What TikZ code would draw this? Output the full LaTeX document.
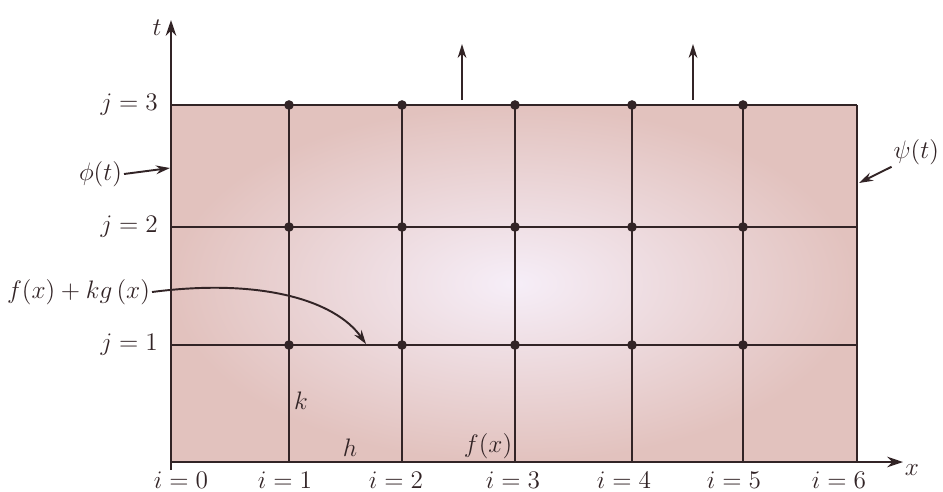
\documentclass[tikz,border=0pt]{standalone}
\usetikzlibrary{arrows.meta}
\definecolor{ink}{RGB}{50,36,38}
\definecolor{pinkout}{RGB}{226,194,190}
\definecolor{pinkin}{RGB}{246,238,248}
\begin{document}
\begin{tikzpicture}[x=0.02cm,y=-0.02cm,
  gridline/.style={draw=ink,line width=0.8pt},
  axisline/.style={draw=ink,line width=1.4pt,-{Stealth[length=9pt,width=6pt]}},
  ptr/.style={draw=ink,line width=1.1pt,-{Stealth[length=8pt,width=5pt]}},
  lbl/.style={text=ink,inner sep=1pt,font=\fontsize{13.5}{15}\selectfont},
  dot/.style={circle,fill=ink,inner sep=0pt,minimum size=5.5pt}]
\useasboundingbox (0,0) rectangle (943,491);
% background
\shade[inner color=pinkin,outer color=pinkout] (171,105) rectangle (857,462);
% grid coordinates
\foreach \i/\x in {0/171,1/289,2/402,3/515,4/632,5/743,6/857}{
  \coordinate (b\i) at (\x,462);
  \coordinate (t\i) at (\x,105);
}
\foreach \j/\y in {0/462,1/345,2/227,3/105}{
  \coordinate (l\j) at (171,\y);
  \coordinate (r\j) at (857,\y);
}
% grid lines
\foreach \i in {1,...,6}{ \draw[gridline] (b\i) -- (t\i); }
\foreach \j in {1,2,3}{ \draw[gridline] (l\j) -- (r\j); }
% axes
\coordinate (o) at (171,462);
\coordinate (xend) at (903,462);
\coordinate (tend) at (171,20);
\draw[axisline] (o) -- (xend);
\draw[axisline] (171,470) -- (tend);
\node[lbl] (xl) at (912,470) {$x$};
\node[lbl] (tl) at (157,28) {$t$};
% dots
\foreach \i/\x in {1/289,2/402,3/515,4/632,5/743}{
  \foreach \j/\y in {1/345,2/227,3/105}{
    \node[dot] (d\i\j) at (\x,\y) {};
  }
}
% i labels
\node[lbl] (i0) at (181,480) {$i=0$};
\node[lbl] (i1) at (285,480) {$i=1$};
\node[lbl] (i2) at (396,480) {$i=2$};
\node[lbl] (i3) at (513,480) {$i=3$};
\node[lbl] (i4) at (624,480) {$i=4$};
\node[lbl] (i5) at (734,480) {$i=5$};
\node[lbl] (i6) at (839,480) {$i=6$};
% j labels
\node[lbl,anchor=east] (j3) at (160,105) {$j=3$};
\node[lbl,anchor=east] (j2) at (160,227) {$j=2$};
\node[lbl,anchor=east] (j1) at (160,345) {$j=1$};
% top arrows
\coordinate (ua1) at (462,100); \coordinate (ub1) at (462,44);
\coordinate (ua2) at (693,100); \coordinate (ub2) at (693,44);
\draw[ptr] (ua1) -- (ub1);
\draw[ptr] (ua2) -- (ub2);
% boundary labels
\node[lbl,anchor=east] (phi) at (124,174) {$\phi(t)$};
\coordinate (phip) at (170,168);
\draw[ptr] (phi.east) -- (phip);
\node[lbl,anchor=east] (psi) at (941,152) {$\psi(t)$};
\coordinate (psip) at (859,183);
\draw[ptr] (psi.south west) -- (psip);
\node[lbl,anchor=east] (fkg) at (152,292) {$f(x)+kg\,(x)$};
\coordinate (fkgp) at (366,344);
\draw[ptr] (fkg.east) .. controls (260,278) and (335,300) .. (fkgp);
% inside labels
\node[lbl] (k) at (301,401) {$k$};
\node[lbl] (h) at (350,448) {$h$};
\node[lbl] (f) at (488,446) {$f(x)$};
\end{tikzpicture}
\end{document}
